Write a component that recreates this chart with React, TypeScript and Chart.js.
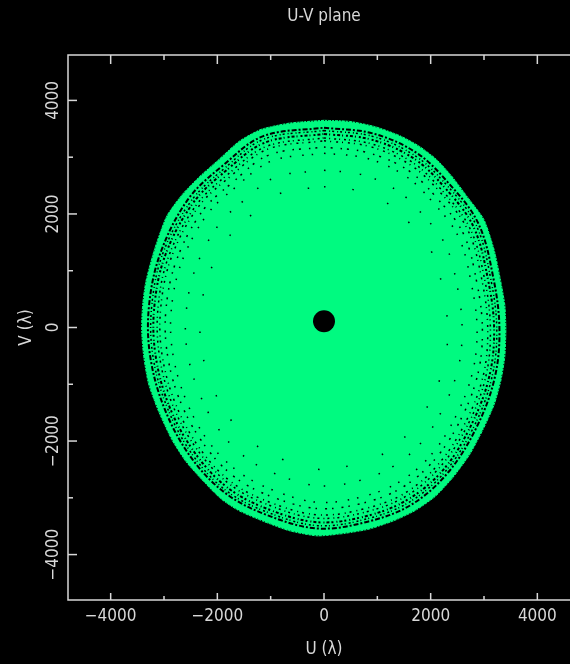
import { useEffect, useRef } from "react";
import { Chart, registerables } from "chart.js";

Chart.register(...registerables);

// Plot texts
const TITLE = "U-V plane";
const U_TITLE = "U (λ)";
const V_TITLE = "V (λ)";

// Axis limits (wavelengths)
const U_MIN = -4800;
const U_MAX = 4800;
const V_MIN = -4800;
const V_MAX = 4800;

// Tick positions and labels (shared by U and V axes)
const majorTicks = [-4000, -2000, 0, 2000, 4000];
const majorTickLabels = ["−4000", "−2000", "0", "2000", "4000"];
const minorTicks = [-3000, -1000, 1000, 3000];

// Outer envelope of the sampled u-v coverage, [u, v]
const coverageEdge: [number, number][] = [
  [0, 3650], [480, 3630], [950, 3540], [1420, 3380], [1790, 3190], [2110, 2960],
  [2400, 2660], [2680, 2310], [3000, 1900], [3190, 1370], [3300, 880], [3390, 400],
  [3410, -40], [3390, -510], [3320, -920], [3190, -1360], [2980, -1800], [2730, -2240],
  [2410, -2650], [2080, -2980], [1700, -3230], [1320, -3400], [850, -3550], [360, -3630],
  [-130, -3670], [-650, -3580], [-1120, -3420], [-1590, -3230], [-1930, -3020], [-2250, -2720],
  [-2590, -2360], [-2850, -1980], [-3100, -1480], [-3290, -990], [-3380, -510], [-3420, -40],
  [-3400, 400], [-3340, 810], [-3180, 1370], [-2950, 1960], [-2660, 2340], [-2330, 2660],
  [-1970, 2960], [-1590, 3280], [-1180, 3490], [-650, 3600], [0, 3650],
];

// Unsampled gaps between the baseline tracks, outermost first, [u, v]
const gapTrack1: [number, number][] = [
  [0, 3520], [910, 3420], [1730, 3080], [2310, 2570], [2890, 1840], [3180, 850],
  [3290, -40], [3200, -890], [2870, -1740], [2330, -2550], [1640, -3120], [820, -3420],
  [-120, -3540], [-1080, -3300], [-1860, -2910], [-2500, -2280], [-2990, -1430], [-3260, -500],
  [-3280, 390], [-3060, 1330], [-2540, 2270], [-1900, 2850], [-1140, 3370], [0, 3520],
];
const gapTrack2: [number, number][] = [
  [0, 3470], [900, 3370], [1700, 3030], [2280, 2530], [2850, 1810], [3130, 840],
  [3240, -40], [3150, -870], [2830, -1710], [2290, -2520], [1610, -3070], [810, -3370],
  [-120, -3490], [-1070, -3250], [-1840, -2870], [-2460, -2250], [-2940, -1410], [-3210, -490],
  [-3230, 380], [-3020, 1310], [-2490, 2230], [-1870, 2800], [-1120, 3320], [0, 3470],
];
const gapTrack3: [number, number][] = [
  [0, 3410], [890, 3310], [1680, 2980], [2240, 2490], [2800, 1780], [3080, 820],
  [3190, -40], [3100, -860], [2780, -1680], [2260, -2480], [1590, -3020], [800, -3320],
  [-120, -3430], [-1050, -3200], [-1810, -2820], [-2420, -2210], [-2900, -1390], [-3160, -480],
  [-3180, 380], [-2970, 1290], [-2450, 2200], [-1840, 2760], [-1100, 3260], [0, 3410],
];
const gapTrack4: [number, number][] = [
  [0, 3340], [870, 3240], [1640, 2920], [2190, 2440], [2740, 1740], [3020, 810],
  [3120, -30], [3040, -840], [2730, -1650], [2210, -2420], [1560, -2960], [780, -3250],
  [-120, -3360], [-1030, -3130], [-1770, -2760], [-2370, -2160], [-2840, -1360], [-3090, -470],
  [-3110, 370], [-2910, 1260], [-2400, 2150], [-1800, 2700], [-1080, 3190], [0, 3340],
];
const gapTrack5: [number, number][] = [
  [0, 3290], [850, 3190], [1610, 2870], [2160, 2400], [2700, 1710], [2970, 790],
  [3070, -30], [2990, -830], [2680, -1620], [2170, -2380], [1530, -2910], [770, -3190],
  [-110, -3300], [-1010, -3080], [-1740, -2720], [-2330, -2130], [-2790, -1330], [-3040, -460],
  [-3060, 360], [-2860, 1240], [-2360, 2120], [-1770, 2650], [-1060, 3140], [0, 3290],
];
const gapTrack6: [number, number][] = [
  [0, 3180], [820, 3080], [1560, 2780], [2080, 2320], [2610, 1660], [2870, 770],
  [2970, -30], [2890, -800], [2590, -1570], [2100, -2300], [1480, -2810], [740, -3090],
  [-110, -3190], [-980, -2980], [-1680, -2630], [-2250, -2060], [-2700, -1290], [-2940, -450],
  [-2960, 350], [-2760, 1200], [-2280, 2050], [-1710, 2560], [-1030, 3040], [0, 3180],
];
const gapTrack7: [number, number][] = [
  [0, 3070], [800, 2980], [1510, 2680], [2010, 2240], [2520, 1600], [2770, 740],
  [2870, -30], [2790, -770], [2500, -1510], [2030, -2220], [1430, -2710], [720, -2980],
  [-110, -3080], [-940, -2870], [-1620, -2530], [-2180, -1990], [-2600, -1250], [-2840, -430],
  [-2860, 340], [-2670, 1150], [-2200, 1980], [-1660, 2470], [-990, 2930], [0, 3070],
];
const gapTrack8: [number, number][] = [
  [0, 2770], [720, 2690], [1360, 2420], [1820, 2020], [2280, 1450], [2510, 670],
  [2590, -30], [2520, -700], [2260, -1370], [1840, -2010], [1290, -2450], [650, -2700],
  [-100, -2790], [-850, -2600], [-1470, -2290], [-1970, -1800], [-2350, -1130], [-2570, -390],
  [-2580, 310], [-2410, 1040], [-1990, 1790], [-1500, 2240], [-900, 2650], [0, 2770],
];
const gapTrack9: [number, number][] = [
  [0, 2480], [640, 2410], [1220, 2170], [1630, 1810], [2040, 1290], [2240, 600],
  [2320, -30], [2260, -620], [2030, -1230], [1640, -1800], [1160, -2200], [580, -2410],
  [-90, -2500], [-760, -2330], [-1310, -2050], [-1760, -1610], [-2110, -1010], [-2300, -350],
  [-2310, 280], [-2160, 930], [-1780, 1600], [-1340, 2000], [-800, 2370], [0, 2480],
];

// Phase-centre marker
const phaseCentre: [number, number][] = [[0, 110]];

const GREEN = "#00fa80";
const INK = "#000000";
const FRAME = "#d8d8d8";
const FONT = '17px "DejaVu Sans Condensed", "DejaVu Sans", sans-serif';

const toXY = (pts: [number, number][]) => pts.map(([x, y]) => ({ x, y }));

const gapTrack = (pts: [number, number][], width: number, dash: number[], order: number) => ({
  data: toXY(pts),
  showLine: true,
  fill: false,
  borderColor: INK,
  borderWidth: width,
  borderDash: dash,
  borderCapStyle: "butt" as const,
  tension: 0.35,
  pointRadius: 0,
  order,
});

const framePlugin = {
  id: "uvFrame",
  afterDraw(chart: any) {
    const { ctx, chartArea: a, scales } = chart;
    const xs = scales.x;
    const ys = scales.y;
    ctx.save();
    ctx.strokeStyle = FRAME;
    ctx.lineWidth = 1.5;
    ctx.strokeRect(a.left, a.top, a.right - a.left, a.bottom - a.top);

    const seg = (x1: number, y1: number, x2: number, y2: number) => {
      ctx.beginPath();
      ctx.moveTo(x1, y1);
      ctx.lineTo(x2, y2);
      ctx.stroke();
    };
    const drawTicks = (values: number[], lenTop: number, lenBottom: number, lenSide: number) => {
      for (const v of values) {
        const px = xs.getPixelForValue(v);
        seg(px, a.bottom, px, a.bottom - lenBottom);
        seg(px, a.top, px, a.top + lenTop);
        const py = ys.getPixelForValue(v);
        seg(a.left, py, a.left + lenSide, py);
        seg(a.right, py, a.right - lenSide, py);
      }
    };
    drawTicks(majorTicks, 9, 7, 9);
    drawTicks(minorTicks, 5, 4, 5);

    ctx.fillStyle = FRAME;
    ctx.font = FONT;
    ctx.textAlign = "center";
    ctx.textBaseline = "middle";

    majorTicks.forEach((v, i) => {
      ctx.fillText(majorTickLabels[i], xs.getPixelForValue(v), a.bottom + 17);
    });
    majorTicks.forEach((v, i) => {
      ctx.save();
      ctx.translate(a.left - 14, ys.getPixelForValue(v));
      ctx.rotate(-Math.PI / 2);
      ctx.fillText(majorTickLabels[i], 0, 0);
      ctx.restore();
    });

    const cx = (a.left + a.right) / 2;
    const cy = (a.top + a.bottom) / 2;
    ctx.fillText(U_TITLE, cx, a.bottom + 50);
    ctx.fillText(TITLE, cx, 17);
    ctx.save();
    ctx.translate(a.left - 41, cy);
    ctx.rotate(-Math.PI / 2);
    ctx.fillText(V_TITLE, 0, 0);
    ctx.restore();
    ctx.restore();
  },
};

export default function App() {
  const canvasRef = useRef<HTMLCanvasElement | null>(null);

  useEffect(() => {
    document.body.style.margin = "0";
    document.body.style.background = "#000";
    const canvas = canvasRef.current;
    if (!canvas) return;
    const chart = new Chart(canvas, {
      type: "scatter",
      data: {
        datasets: [
          {
            data: toXY(coverageEdge),
            showLine: true,
            fill: "shape",
            backgroundColor: GREEN,
            borderColor: GREEN,
            borderWidth: 1,
            tension: 0.2,
            pointRadius: 0,
            order: 30,
          },
          gapTrack(coverageEdge, 1, [1, 2, 1, 3], 20),
          gapTrack(gapTrack1, 2, [5, 2, 2, 2], 19),
          gapTrack(gapTrack2, 1.5, [2, 3, 1, 2], 18),
          gapTrack(gapTrack3, 2, [3, 2, 1, 3, 2, 2], 17),
          gapTrack(gapTrack4, 1.5, [2, 3, 1, 4], 16),
          gapTrack(gapTrack5, 1.5, [2, 4, 1, 5], 15),
          gapTrack(gapTrack6, 1.5, [1.5, 5, 2, 8], 14),
          gapTrack(gapTrack7, 1.5, [1.5, 8, 1.5, 11], 13),
          gapTrack(gapTrack8, 1.5, [1.5, 14, 1.5, 19], 12),
          gapTrack(gapTrack9, 1.5, [1.5, 27, 1.5, 36], 11),
          {
            data: toXY(phaseCentre),
            showLine: false,
            pointRadius: 11,
            pointBackgroundColor: INK,
            pointBorderWidth: 0,
            order: 0,
          },
        ],
      } as any,
      options: {
        responsive: false,
        animation: false,
        events: [],
        layout: { padding: { left: 68, right: 20, top: 55, bottom: 64 } },
        scales: {
          x: { type: "linear", min: U_MIN, max: U_MAX, display: false },
          y: { type: "linear", min: V_MIN, max: V_MAX, display: false },
        },
        plugins: {
          legend: { display: false },
          tooltip: { enabled: false },
          title: { display: false },
        },
      },
      plugins: [framePlugin],
    });
    return () => chart.destroy();
  }, []);

  return (
    <div style={{ width: 570, height: 664, overflow: "hidden", background: "#000" }}>
      <canvas ref={canvasRef} width={600} height={664} style={{ display: "block" }} />
    </div>
  );
}
